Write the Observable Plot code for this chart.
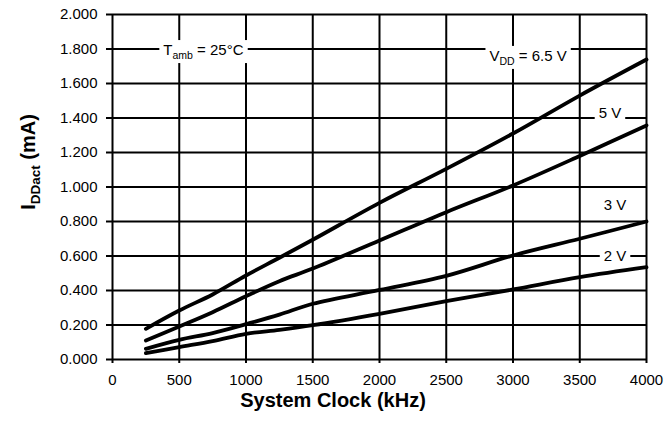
<!DOCTYPE html>
<html><head><meta charset="utf-8">
<script src="https://cdn.jsdelivr.net/npm/d3@7"></script>
<script src="https://cdn.jsdelivr.net/npm/@observablehq/plot@0.6"></script>
<style>
html,body{margin:0;padding:0;background:#fff}
svg{font-family:"Liberation Sans",Arial,Helvetica,sans-serif}
</style></head><body><div id="chart"></div>
<script>
// System clock (kHz)
const clock = [250, 500, 750, 1000, 1250, 1500, 2000, 2500, 3000, 3500, 4000];
// I_DDact (mA) per supply voltage
const vdd65 = [0.178, 0.284, 0.377, 0.487, 0.590, 0.694, 0.908, 1.105, 1.310, 1.530, 1.739];
const vdd5  = [0.110, 0.191, 0.274, 0.367, 0.454, 0.527, 0.690, 0.854, 1.009, 1.180, 1.357];
const vdd3  = [0.062, 0.114, 0.153, 0.205, 0.260, 0.323, 0.403, 0.485, 0.603, 0.700, 0.800];
const vdd2  = [0.037, 0.072, 0.106, 0.149, 0.172, 0.199, 0.265, 0.338, 0.406, 0.477, 0.535];
const seriesNames = ["6.5 V", "5 V", "3 V", "2 V"];
// ticks
const xTicks = [0, 500, 1000, 1500, 2000, 2500, 3000, 3500, 4000];
const yTicks = [0, 0.2, 0.4, 0.6, 0.8, 1.0, 1.2, 1.4, 1.6, 1.8, 2.0];
// texts
const xLabel = "System Clock (kHz)";
const yLabel = {main: "I", sub: "DDact", rest: " (mA)"};
const notes = [
  {main: "T", sub: "amb", rest: " = 25°C", clock: 685, current: 1.762, box: true},
  {main: "V", sub: "DD", rest: " = 6.5 V", clock: 3117, current: 1.728, box: true},
  {main: "5 V", sub: "", rest: "", clock: 3730, current: 1.397, box: true},
  {main: "3 V", sub: "", rest: "", clock: 3768, current: 0.864, box: false},
  {main: "2 V", sub: "", rest: "", clock: 3768, current: 0.568, box: true}
];

const allSeries = [vdd65, vdd5, vdd3, vdd2];
const rows = allSeries.flatMap((vals, k) => clock.map((c, i) => ({vdd: seriesNames[k], clock: c, current: vals[i]})));

const plot = Plot.plot({
  width: 666, height: 428,
  marginLeft: 112, marginRight: 20, marginTop: 14, marginBottom: 69,
  style: {fontFamily: '"Liberation Sans",Arial,Helvetica,sans-serif', fontSize: "15px", background: "#fff", color: "#000", overflow: "visible"},
  x: {domain: [0, 4000]},
  y: {domain: [0, 2]},
  marks: [
    Plot.ruleX(xTicks, {stroke: "#000", strokeWidth: 2, strokeOpacity: 1}),
    Plot.ruleY(yTicks, {stroke: "#000", strokeWidth: 2, strokeOpacity: 1}),
    Plot.axisX({ticks: xTicks, tickSize: 4, tickPadding: 11, tickFormat: d3.format("d"), label: null, fontSize: 15, strokeWidth: 2, strokeOpacity: 1}),
    Plot.axisY({ticks: yTicks, tickSize: 6, tickPadding: 9, tickFormat: d3.format(".3f"), label: null, fontSize: 15, strokeWidth: 2, strokeOpacity: 1}),
    Plot.line(rows, {x: "clock", y: "current", z: "vdd", curve: "catmull-rom", stroke: "#000", strokeWidth: 3.8, strokeLinejoin: "round", strokeLinecap: "round"})
  ]
});
document.getElementById("chart").appendChild(plot);

const sx = plot.scale("x"), sy = plot.scale("y");
const svg = d3.select(plot);
const g = svg.append("g").attr("font-family", '"Liberation Sans",Arial,Helvetica,sans-serif').attr("fill", "#000");

notes.forEach(n => {
  const ng = g.append("g");
  const rect = ng.append("rect").attr("fill", "#fff");
  const t = ng.append("text")
    .attr("x", sx.apply(n.clock)).attr("y", sy.apply(n.current))
    .attr("text-anchor", "middle").attr("font-size", 15);
  t.append("tspan").text(n.main);
  if (n.sub) t.append("tspan").attr("font-size", 10.5).attr("dy", 4).text(n.sub);
  if (n.rest) t.append("tspan").attr("dy", n.sub ? -4 : 0).text(n.rest);
  if (n.box) {
    const b = t.node().getBBox();
    rect.attr("x", b.x - 4).attr("y", b.y - 1).attr("width", b.width + 8).attr("height", b.height + 3);
  } else rect.remove();
});

// x axis title
g.append("text").attr("x", 333).attr("y", 407).attr("text-anchor", "middle")
  .attr("font-size", 20).attr("font-weight", "bold").text(xLabel);
// y axis title
const yt = g.append("text").attr("transform", "translate(35,162) rotate(-90)")
  .attr("text-anchor", "middle").attr("font-size", 20).attr("font-weight", "bold");
yt.append("tspan").text(yLabel.main);
yt.append("tspan").attr("font-size", 13.5).attr("dy", 5).text(yLabel.sub);
yt.append("tspan").attr("dy", -5).text(yLabel.rest);
</script></body></html>
